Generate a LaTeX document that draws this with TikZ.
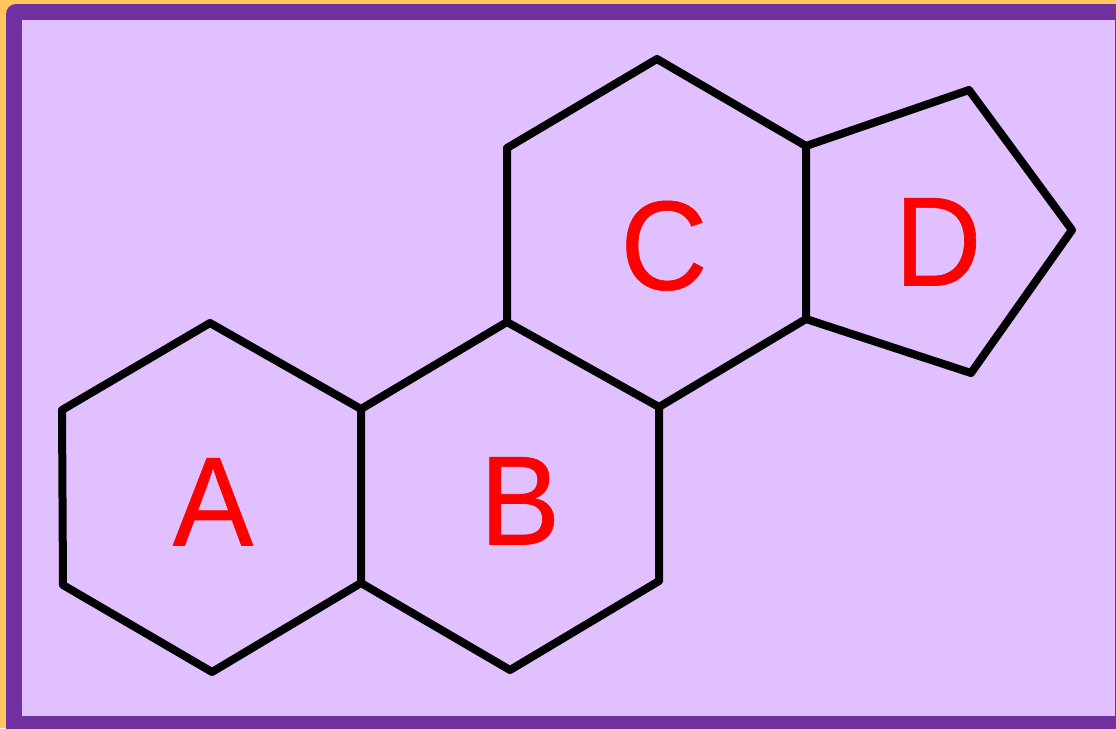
\documentclass[tikz,border=0pt]{standalone}
\usepackage{fontspec}
\setmainfont{Liberation Sans}[FakeBold=0.5,FakeStretch=0.95]
\definecolor{bgyellow}{HTML}{FFC65C}
\definecolor{frameviolet}{HTML}{7030A0}
\definecolor{fillviolet}{HTML}{E0C0FF}
\tikzset{
  bond/.style={draw=black,line width=8pt,line join=round,line cap=round},
  ringlabel/.style={text=red,font=\fontsize{127pt}{127pt}\selectfont,inner sep=0pt,anchor=base}
}
\begin{document}
\begin{tikzpicture}[x=1pt,y=-1pt]
\useasboundingbox (0,0) rectangle (1116,728);
\fill[bgyellow] (0,0) rectangle (1116,728);
\fill[frameviolet,rounded corners=10pt] (6,4) -- (1130,4) -- (1130,740) -- (6,740) -- cycle;
\fill[fillviolet] (22,20) rectangle (1115,716);
\coordinate (a1) at (210,323);
\coordinate (ab1) at (361,409);
\coordinate (ab2) at (361,583);
\coordinate (a4) at (212,672);
\coordinate (a5) at (63,585);
\coordinate (a6) at (62,410);
\coordinate (bc1) at (507,322);
\coordinate (bc2) at (659,407);
\coordinate (b3) at (659,581);
\coordinate (b4) at (510,670);
\coordinate (c2) at (507,148);
\coordinate (c3) at (657,59);
\coordinate (cd1) at (806,146);
\coordinate (cd2) at (806,319);
\coordinate (d1) at (969,90);
\coordinate (d2) at (1072,230);
\coordinate (d3) at (971,373);
\draw[bond] (a1) -- (ab1) -- (ab2) -- (a4) -- (a5) -- (a6) -- cycle;
\draw[bond] (ab1) -- (bc1) -- (bc2) -- (b3) -- (b4) -- (ab2);
\draw[bond] (bc1) -- (c2) -- (c3) -- (cd1) -- (cd2) -- (bc2);
\draw[bond] (cd1) -- (d1) -- (d2) -- (d3) -- (cd2);
\node[ringlabel] (la) at (213,545.5) {A};
\node[ringlabel] (lb) at (520,544.5) {B};
\node[ringlabel] (lc) at (664,289.5) {C};
\node[ringlabel] (ld) at (938,285.5) {D};
\end{tikzpicture}
\end{document}
